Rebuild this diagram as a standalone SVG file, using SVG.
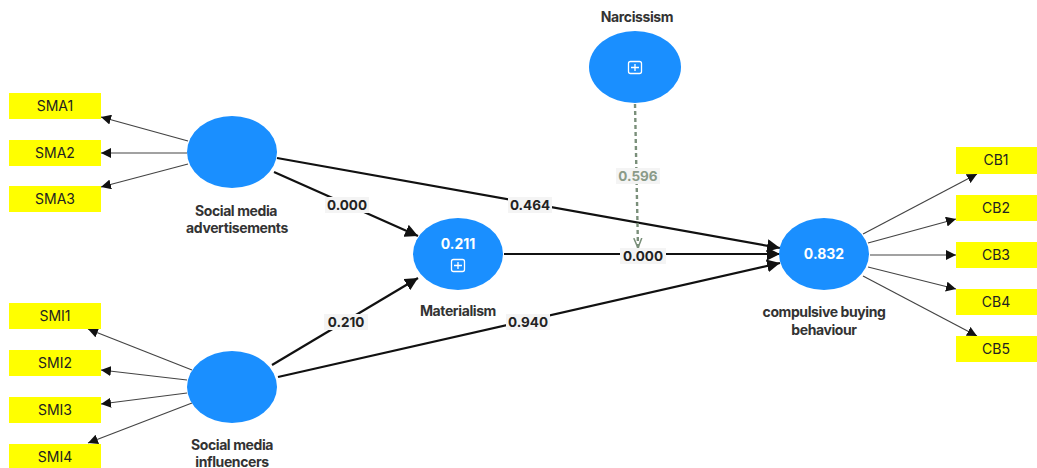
<svg xmlns="http://www.w3.org/2000/svg" width="1037" height="468" viewBox="0 0 1037 468">
<style>
.ind{fill:#ffff00;}
.it{font-family:Inter,"Liberation Sans",sans-serif;font-size:14px;fill:#222;text-anchor:middle;}
.lv{fill:#1a8fff;}
.nl{font-family:Inter,"Liberation Sans",sans-serif;font-size:14px;font-weight:bold;fill:#333;text-anchor:middle;letter-spacing:-0.4px;}
.wt{font-family:Inter,"Liberation Sans",sans-serif;font-size:14px;font-weight:bold;fill:#fff;text-anchor:middle;}
.thin{stroke:#444;stroke-width:1.2;fill:none;}
.thick{stroke:#111;stroke-width:2.2;fill:none;}
.dash{stroke:#7a8f7a;stroke-width:2.4;stroke-dasharray:4,3;fill:none;}
.lb{fill:#f4f4f4;}
.lt{font-family:Inter,"Liberation Sans",sans-serif;font-size:13.5px;font-weight:bold;fill:#222;text-anchor:middle;}
.lg{font-family:Inter,"Liberation Sans",sans-serif;font-size:13.5px;font-weight:bold;fill:#8a9a88;text-anchor:middle;}
.ic{stroke:#fff;stroke-width:1.3;fill:none;}
</style>
<defs>
<marker id="a" viewBox="0 0 10 10" refX="10" refY="5" markerWidth="10" markerHeight="10" markerUnits="userSpaceOnUse" orient="auto"><path d="M0,0 L10,5 L0,10 z" fill="#111"/></marker>
<marker id="b" viewBox="0 0 10 10" refX="10" refY="5" markerWidth="13" markerHeight="13" markerUnits="userSpaceOnUse" orient="auto"><path d="M0,0 L10,5 L0,10 z" fill="#111"/></marker>
<marker id="v" viewBox="0 0 10 10" refX="10" refY="5" markerWidth="10" markerHeight="10" markerUnits="userSpaceOnUse" orient="auto"><path d="M0,1 L10,5 L0,9" fill="none" stroke="#7a8f7a" stroke-width="1.5"/></marker>
</defs>
<rect width="1037" height="468" fill="#fff"/>
<g id="connectors">
<path class="thin" d="M188,141 L101,117" marker-end="url(#a)"/>
<path class="thin" d="M187,153 L101,153" marker-end="url(#a)"/>
<path class="thin" d="M188,164 L101,187" marker-end="url(#a)"/>
<path class="thin" d="M192,370 L88,329" marker-end="url(#a)"/>
<path class="thin" d="M187,380 L101,370" marker-end="url(#a)"/>
<path class="thin" d="M187,393 L101,404" marker-end="url(#a)"/>
<path class="thin" d="M192,403 L88,443" marker-end="url(#a)"/>
<path class="thin" d="M863,234 L977,174" marker-end="url(#a)"/>
<path class="thin" d="M868,243 L956,219" marker-end="url(#a)"/>
<path class="thin" d="M870,255 L956,255" marker-end="url(#a)"/>
<path class="thin" d="M868,267 L956,289" marker-end="url(#a)"/>
<path class="thin" d="M863,276 L977,336" marker-end="url(#a)"/>
<path class="thick" d="M274,172 L418,236" marker-end="url(#b)"/>
<path class="thick" d="M277,158 L780,248" marker-end="url(#b)"/>
<path class="thick" d="M272,365 L418,278" marker-end="url(#b)"/>
<path class="thick" d="M278,377 L780,263" marker-end="url(#b)"/>
<path class="thick" d="M504,254 L780,254" marker-end="url(#b)"/>
<path class="dash" d="M635,104 L638,248" marker-end="url(#v)"/>
<rect class="lb" x="325" y="197" width="44" height="16"/><text class="lt" x="347" y="210">0.000</text>
<rect class="lb" x="508" y="197" width="44" height="16"/><text class="lt" x="530" y="210">0.464</text>
<rect class="lb" x="324" y="314" width="44" height="16"/><text class="lt" x="346" y="327">0.210</text>
<rect class="lb" x="506" y="314" width="44" height="16"/><text class="lt" x="528" y="327">0.940</text>
<rect class="lb" x="620" y="248" width="46" height="16"/><text class="lt" x="643" y="261">0.000</text>
<rect class="lb" x="616" y="168" width="44" height="16"/><text class="lg" x="638" y="181">0.596</text>
</g>
<g id="SMA1"><rect class="ind" x="9" y="93" width="92" height="26"/><text class="it" x="55" y="111">SMA1</text></g>
<g id="SMA2"><rect class="ind" x="9" y="140" width="92" height="26"/><text class="it" x="55" y="158">SMA2</text></g>
<g id="SMA3"><rect class="ind" x="9" y="186" width="92" height="26"/><text class="it" x="55" y="204">SMA3</text></g>
<g id="SMI1"><rect class="ind" x="9" y="303" width="92" height="26"/><text class="it" x="55" y="321">SMI1</text></g>
<g id="SMI2"><rect class="ind" x="9" y="350" width="92" height="26"/><text class="it" x="55" y="368">SMI2</text></g>
<g id="SMI3"><rect class="ind" x="9" y="397" width="92" height="26"/><text class="it" x="55" y="415">SMI3</text></g>
<g id="SMI4"><rect class="ind" x="9" y="444" width="92" height="26"/><text class="it" x="55" y="462">SMI4</text></g>
<g id="CB1"><rect class="ind" x="956" y="147" width="81" height="27"/><text class="it" x="996" y="165">CB1</text></g>
<g id="CB2"><rect class="ind" x="956" y="195" width="81" height="26"/><text class="it" x="996" y="213">CB2</text></g>
<g id="CB3"><rect class="ind" x="956" y="242" width="81" height="26"/><text class="it" x="996" y="260">CB3</text></g>
<g id="CB4"><rect class="ind" x="956" y="289" width="81" height="26"/><text class="it" x="996" y="307">CB4</text></g>
<g id="CB5"><rect class="ind" x="956" y="336" width="81" height="26"/><text class="it" x="996" y="354">CB5</text></g>
<g id="SocialMediaAdvertisements"><ellipse class="lv" cx="232" cy="152" rx="45" ry="36"/><text class="nl" x="236" y="216">Social media</text><text class="nl" x="237" y="233">advertisements</text></g>
<g id="SocialMediaInfluencers"><ellipse class="lv" cx="232" cy="387" rx="45" ry="36"/><text class="nl" x="232" y="450">Social media</text><text class="nl" x="232" y="467">influencers</text></g>
<g id="Materialism"><ellipse class="lv" cx="458" cy="254" rx="45" ry="36"/><text class="wt" x="458" y="249">0.211</text><rect class="ic" x="451.5" y="259.5" width="13" height="12" rx="2"/><path class="ic" d="M458,262 V269 M454,265.5 H462"/><text class="nl" x="458" y="316">Materialism</text></g>
<g id="Narcissism"><ellipse class="lv" cx="635" cy="67" rx="46" ry="36"/><rect class="ic" x="628.5" y="61.5" width="13" height="12" rx="2"/><path class="ic" d="M635,64 V71 M631,67.5 H639"/><text class="nl" x="637" y="22">Narcissism</text></g>
<g id="CompulsiveBuyingBehaviour"><ellipse class="lv" cx="824" cy="254" rx="45" ry="36"/><text class="wt" x="824" y="259">0.832</text><text class="nl" x="824" y="317">compulsive buying</text><text class="nl" x="824" y="335">behaviour</text></g>
</svg>
